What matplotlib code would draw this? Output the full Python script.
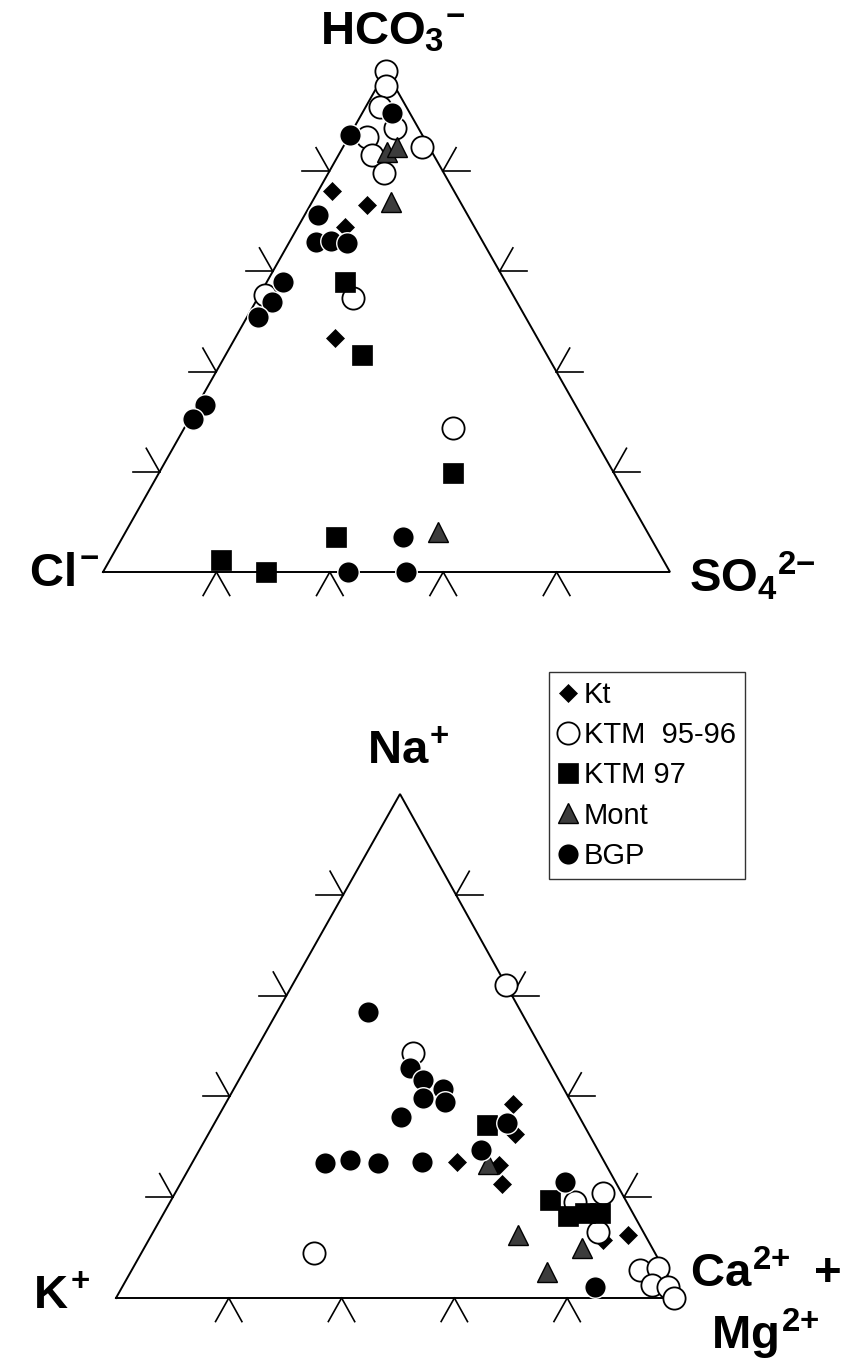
import matplotlib.pyplot as plt
import numpy as np

plt.rcParams['font.family'] = 'Liberation Sans'
plt.rcParams['mathtext.fontset'] = 'custom'
plt.rcParams['mathtext.rm'] = 'Liberation Sans:bold'
plt.rcParams['mathtext.it'] = 'Liberation Sans:bold'
plt.rcParams['mathtext.bf'] = 'Liberation Sans:bold'

# ---- anions, % of HCO3 and SO4 (Cl is the remainder) ----
kt_hco3 = [76.0, 73.3, 68.9, 46.7]
kt_so4 = [2.4, 10.0, 8.3, 17.6]

ktm9596_hco3 = [100, 97.0, 92.8, 86.8, 88.6, 83.2, 84.8, 79.6, 54.7, 28.7, 55.3]
ktm9596_so4 = [0, 1.5, 2.5, 3.3, 7.2, 6.0, 13.9, 9.9, 16.8, 47.4, 0.9]

ktm97_hco3 = [57.9, 43.3, 19.8, 7.0, 2.4, 0]
ktm97_so4 = [13.7, 24.0, 51.8, 37.6, 19.6, 28.7]

mont_hco3 = [83.8, 84.8, 73.9, 8.0]
mont_so4 = [8.2, 9.6, 13.9, 55.1]

bgp_hco3 = [91.6, 87.2, 71.3, 65.9, 66.1, 65.7, 57.9, 53.9, 50.9, 33.3, 30.5, 7.0, 0, 0]
bgp_so4 = [5.2, 0, 2.3, 4.7, 7.2, 10.2, 2.8, 2.9, 1.9, 1.4, 0.6, 49.4, 43.2, 53.4]

# ---- cations, % of Na and Ca+Mg (K is the remainder) ----
kt_na = [38.5, 32.5, 27.0, 26.4, 22.6, 11.5, 12.5]
kt_camg = [51.0, 54.4, 46.9, 54.6, 57.1, 80.5, 84.5]

ktm9596_na = [62.1, 48.6, 8.9, 20.8, 13.1, 19.0, 5.6, 6.0, 2.6, 2.2, 0]
ktm9596_camg = [37.9, 28.2, 30.6, 75.9, 78.9, 71.8, 90.1, 93.1, 93.7, 96.8, 98.9]

ktm97_na = [34.3, 19.4, 16.3, 16.9, 16.9]
ktm97_camg = [48.5, 67.2, 71.9, 74.7, 77.3]

mont_na = [26.6, 12.5, 5.2, 9.9]
mont_camg = [52.6, 65.0, 73.8, 77.6]

bgp_na = [56.7, 45.6, 43.3, 41.5, 39.7, 38.9, 35.9, 26.8, 27.4, 26.8, 27.0, 29.4, 34.7, 23.0, 2.2]
bgp_camg = [16.1, 29.2, 32.7, 37.1, 34.4, 38.8, 32.4, 23.6, 27.7, 33.0, 40.7, 49.9, 51.8, 68.0, 83.8]

labels = ['Kt', 'KTM  95-96', 'KTM 97', 'Mont', 'BGP']

# corner positions of the two triangles (left, right, top) in figure pixels
upper = np.array([[103, 572], [670, 572], [386, 71]], float)
lower = np.array([[116, 1298], [680, 1298], [400, 794]], float)


def tern(top, right, tri):
    t = np.asarray(top, float) / 100
    r = np.asarray(right, float) / 100
    l = 1 - t - r
    x = l * tri[0, 0] + r * tri[1, 0] + t * tri[2, 0]
    y = l * tri[0, 1] + r * tri[1, 1] + t * tri[2, 1]
    return x, y


def draw_triangle(ax, tri, ticklen=27):
    L, R, T = tri
    ax.plot([L[0], R[0], T[0], L[0]], [L[1], R[1], T[1], L[1]],
            color='black', lw=1.4, zorder=2, solid_joinstyle='miter')

    def unit(v):
        return v / np.hypot(*v)

    for i in range(1, 5):
        f = i / 5
        for p, dirs in [(L + f * (R - L), [L - T, R - T]),
                        (L + f * (T - L), [L - R, T - R]),
                        (R + f * (T - R), [R - L, T - L])]:
            for d in dirs:
                q = p + unit(d) * ticklen
                ax.plot([p[0], q[0]], [p[1], q[1]], color='black', lw=1.2, zorder=2)


fig = plt.figure(figsize=(8.52, 13.6), dpi=100)
ax = fig.add_axes([0, 0, 1, 1])
ax.set_xlim(0, 852)
ax.set_ylim(1360, 0)
ax.axis('off')

draw_triangle(ax, upper)
draw_triangle(ax, lower)

styles = [
    dict(marker='D', ms=9, mfc='black', mec='black', mew=0.5, zorder=3),
    dict(marker='o', ms=16, mfc='white', mec='black', mew=1.3, zorder=4),
    dict(marker='s', ms=15, mfc='black', mec='black', mew=0.5, zorder=5),
    dict(marker='^', ms=15, mfc='#3c3c3c', mec='black', mew=1.0, zorder=6),
    dict(marker='o', ms=15.5, mfc='black', mec='white', mew=1.0, zorder=7),
]

anions = [(kt_hco3, kt_so4), (ktm9596_hco3, ktm9596_so4), (ktm97_hco3, ktm97_so4),
          (mont_hco3, mont_so4), (bgp_hco3, bgp_so4)]
cations = [(kt_na, kt_camg), (ktm9596_na, ktm9596_camg), (ktm97_na, ktm97_camg),
           (mont_na, mont_camg), (bgp_na, bgp_camg)]

handles = []
for st, lab, (a_t, a_r), (c_t, c_r) in zip(styles, labels, anions, cations):
    x, y = tern(a_t, a_r, upper)
    h, = ax.plot(x, y, ls='none', label=lab, **st)
    x, y = tern(c_t, c_r, lower)
    ax.plot(x, y, ls='none', **st)
    handles.append(h)

fs = 34
ax.text(393, 32, r'$HCO_3{}^{{-}}$', fontsize=fs, ha='center', va='center')
ax.text(64, 574, r'$Cl^{{-}}$', fontsize=fs, ha='center', va='center')
ax.text(752, 576, r'$SO_4{}^{2{-}}$', fontsize=fs, ha='center', va='center')
ax.text(408, 752, r'$Na^{{+}}$', fontsize=fs, ha='center', va='center')
ax.text(62, 1297, r'$K^{{+}}$', fontsize=fs, ha='center', va='center')
ax.text(766, 1275, r'$Ca^{2{+}}\ +$', fontsize=fs, ha='center', va='center')
ax.text(765, 1334, r'$Mg^{2{+}}$', fontsize=fs, ha='center', va='center')

leg = ax.legend(handles, labels, loc='upper left',
                bbox_to_anchor=(549 / 852, 1 - 672 / 1360), bbox_transform=fig.transFigure,
                borderaxespad=0, frameon=True, fancybox=False, edgecolor='black',
                fontsize=21, numpoints=1, handlelength=0.7, handletextpad=0.2,
                borderpad=0.3, labelspacing=0.42)
leg.get_frame().set_linewidth(1.0)

fig.savefig('out.png', dpi=100)
